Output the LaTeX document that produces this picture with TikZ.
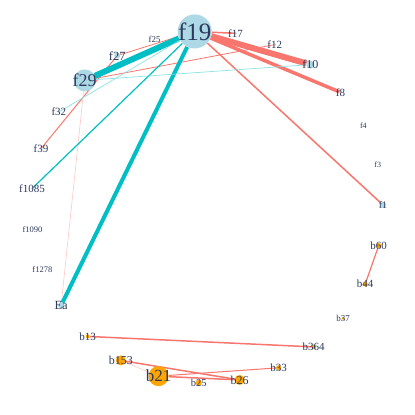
\documentclass[tikz,border=0pt]{standalone}
\usepackage{fontspec}
\setmainfont{Liberation Serif}
\usetikzlibrary{backgrounds}
\definecolor{fblue}{HTML}{ADD8E6}
\definecolor{borange}{HTML}{FFA500}
\definecolor{esalmon}{HTML}{F8766D}
\definecolor{eteal}{HTML}{00BFC4}
\definecolor{labtxt}{HTML}{2E3A5C}
\begin{document}
\begin{tikzpicture}[x=1pt,y=1pt,
  vtx/.style={circle,inner sep=0pt,fill=#1},
  lab/.style={text=labtxt,inner sep=0pt},
  redge/.style={esalmon,line width=#1},
  pedge/.style={esalmon!40,line width=#1},
  tedge/.style={eteal,line width=#1},
  ltedge/.style={eteal!45,line width=#1}]
\useasboundingbox (0,0) rectangle (415,415);
% vertices on a circle, f19 first, clockwise
\begin{scope}[shift={(207,208)}]
\foreach \n/\c/\d/\s [count=\i from 0] in {
  f19/fblue/34/25, f17/fblue/3/11, f12/fblue/3/11, f10/fblue/8/12,
  f8/fblue/2/11, f4/fblue/0/8, f3/fblue/0/8, f1/fblue/6/10,
  b60/borange/5/11, b44/borange/5/11, b37/borange/3/9, b364/borange/5/11,
  b33/borange/5/11, b26/borange/10/12, b25/borange/6/10.5, b21/borange/20/17,
  b153/borange/10/12, b13/borange/4/11, Ea/fblue/6/12.5, f1278/fblue/0/8.5,
  f1090/fblue/0/8.5, f1085/fblue/2/11, f39/fblue/2/11, f32/fblue/2/11,
  f29/fblue/22/18, f27/fblue/6/12.5, f25/fblue/0/9}
  \node[vtx=\c,minimum size=\d pt,
        label={[lab,font=\fontsize{\s}{\s}\selectfont]center:\n}]
    (\n) at ({94-13.333*\i}:176) {};
\end{scope}
% edges
\begin{scope}[on background layer]
\foreach \a/\b/\w in {f19/f17/1.5, f19/f10/6, f19/f8/3.5, f19/f1/1.5,
  f19/f27/0.8, f27/f39/1, f29/f12/0.8, b13/b364/1.5, b153/b26/1.5,
  b21/b26/1.5, b21/b33/1, b60/b44/1.2}
  \draw[redge=\w] (\a) -- (\b);
\foreach \a/\b/\w in {f29/Ea/0.6, b153/b21/0.6}
  \draw[pedge=\w] (\a) -- (\b);
\foreach \a/\b/\w in {f19/f29/6, f19/Ea/4, f19/f1085/1.2}
  \draw[tedge=\w] (\a) -- (\b);
\foreach \a/\b/\w in {f19/f32/0.7, f29/f10/0.7}
  \draw[ltedge=\w] (\a) -- (\b);
\end{scope}
\end{tikzpicture}
\end{document}
